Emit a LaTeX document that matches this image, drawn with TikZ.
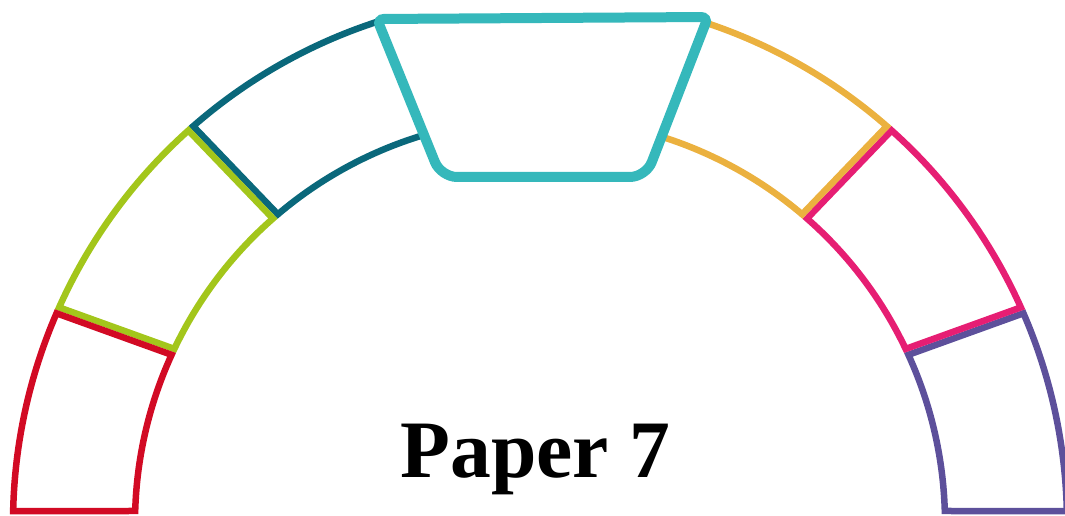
\documentclass[tikz,border=0pt]{standalone}
\usepackage{fontspec}
\newfontfamily\labelfont{Liberation Serif}
\definecolor{cRed}{HTML}{D20A24}
\definecolor{cGreen}{HTML}{A3C61B}
\definecolor{cBlue}{HTML}{0A687B}
\definecolor{cTeal}{HTML}{35B8BB}
\definecolor{cYellow}{HTML}{EBB13F}
\definecolor{cPink}{HTML}{E61E73}
\definecolor{cPurple}{HTML}{5D509B}
\tikzset{
  seg/.style={line width=6.5pt, line join=miter},
  hl/.style={line width=10pt, draw=cTeal, fill=white},
  title/.style={font=\labelfont\bfseries\fontsize{81.6}{90}\selectfont, inner sep=0pt, anchor=base}
}
\begin{document}
\begin{tikzpicture}[x=1pt,y=1pt]
\useasboundingbox (-540,8) rectangle (525,523);
\def\Ro{527}
\def\Ri{405}
% purple
\draw[seg, cPurple] (1.3:\Ro) arc[start angle=1.3, end angle=23.45, radius=\Ro]
  -- (24.54:\Ri) arc[start angle=24.54, end angle=1.7, radius=\Ri] -- cycle;
% pink
\draw[seg, cPink] (24.15:\Ro) arc[start angle=24.15, end angle=48.15, radius=\Ro]
  -- (48.74:\Ri) arc[start angle=48.74, end angle=25.46, radius=\Ri] -- cycle;
% yellow (open, ends hidden under highlight)
\draw[seg, cYellow] (72:\Ro) arc[start angle=72, end angle=48.85, radius=\Ro]
  -- (49.66:\Ri) arc[start angle=49.66, end angle=75, radius=\Ri];
% blue (open)
\draw[seg, cBlue] (108:\Ro) arc[start angle=108, end angle=131.15, radius=\Ro]
  -- (130.34:\Ri) arc[start angle=130.34, end angle=105, radius=\Ri];
% green
\draw[seg, cGreen] (131.85:\Ro) arc[start angle=131.85, end angle=155.85, radius=\Ro]
  -- (154.54:\Ri) arc[start angle=154.54, end angle=131.26, radius=\Ri] -- cycle;
% red
\draw[seg, cRed] (156.55:\Ro) arc[start angle=156.55, end angle=178.7, radius=\Ro]
  -- (178.3:\Ri) arc[start angle=178.3, end angle=155.46, radius=\Ri] -- cycle;
% highlighted segment
\draw[hl] (2,505) [rounded corners=7pt] -- (168,506) [rounded corners=16pt] -- (106,346) -- (-99,346) [rounded corners=7pt] -- (-163,504) -- cycle;
\node[title] (label) at (-4.5,46) {Paper 7};
\end{tikzpicture}
\end{document}
